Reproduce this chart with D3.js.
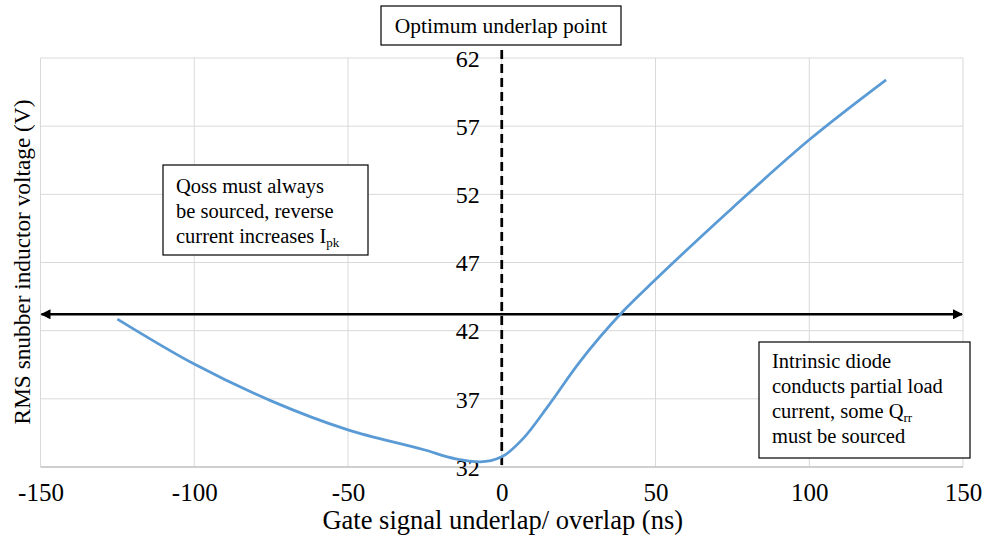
<!DOCTYPE html>
<html>
<head>
<meta charset="utf-8">
<script src="https://cdn.jsdelivr.net/npm/d3@7"></script>
<style>
  html, body { margin: 0; padding: 0; background: #fff; }
</style>
</head>
<body>
<svg id="chart" width="987" height="539"></svg>
<script>
// ---- data ----
const gapNs   = [-125, -100, -75, -50, -25, -15, -7, 0, 7, 15, 25, 40, 50, 75, 100, 125];
const vRms    = [42.85, 39.55, 36.85, 34.72, 33.25, 32.6, 32.38, 32.75, 34.1, 36.45, 39.6, 43.55, 45.75, 51.0, 56.0, 60.4];
const xTicks  = [-150, -100, -50, 0, 50, 100, 150];
const yTicks  = [32, 37, 42, 47, 52, 57, 62];
const arrowLevel = 43.2;
const xTitle  = "Gate signal underlap/ overlap (ns)";
const yTitle  = "RMS snubber inductor voltage (V)";

const FONT = '"Liberation Serif", "Times New Roman", serif';
const svg = d3.select("#chart");
const x = d3.scaleLinear().domain([-150, 150]).range([40.5, 963]);
const y = d3.scaleLinear().domain([32, 62]).range([467, 58]);

// defs for arrowheads
const defs = svg.append("defs");
defs.append("marker").attr("id", "arrowEnd").attr("viewBox", "0 0 10 10")
  .attr("refX", 9).attr("refY", 5).attr("markerWidth", 5).attr("markerHeight", 4)
  .attr("markerUnits", "strokeWidth").attr("orient", "auto")
  .append("path").attr("d", "M0,0 L10,5 L0,10 z").attr("fill", "#000");
defs.append("marker").attr("id", "arrowStart").attr("viewBox", "0 0 10 10")
  .attr("refX", 1).attr("refY", 5).attr("markerWidth", 5).attr("markerHeight", 4)
  .attr("markerUnits", "strokeWidth").attr("orient", "auto")
  .append("path").attr("d", "M10,0 L0,5 L10,10 z").attr("fill", "#000");

// gridlines
svg.append("g").selectAll("line").data(xTicks).join("line")
  .attr("x1", d => x(d)).attr("x2", d => x(d))
  .attr("y1", y(62)).attr("y2", y(32))
  .attr("stroke", "#d9d9d9").attr("stroke-width", 1);
svg.append("g").selectAll("line").data(yTicks).join("line")
  .attr("x1", x(-150)).attr("x2", x(150))
  .attr("y1", d => y(d)).attr("y2", d => y(d))
  .attr("stroke", d => d === 32 ? "#bfbfbf" : "#d9d9d9")
  .attr("stroke-width", d => d === 32 ? 1.5 : 1);

function txt(sel, size) { return sel.style("font-family", FONT).style("font-size", size + "px").attr("fill", "#000"); }

// x axis labels
const xAxis = d3.axisBottom(x).tickValues(xTicks).tickSize(0).tickPadding(0).tickFormat(d => String(d));
const gx = svg.append("g").attr("transform", `translate(0,${y(32)})`).call(xAxis);
gx.select(".domain").remove();
txt(gx.selectAll("text").attr("dy", null).attr("y", 34), 25);

// y axis labels (placed left of x=0)
const yAxis = d3.axisLeft(y).tickValues(yTicks).tickSize(0).tickPadding(0).tickFormat(d => String(d));
const gy = svg.append("g").attr("transform", `translate(${x(0) - 22},0)`).call(yAxis);
gy.select(".domain").remove();
txt(gy.selectAll("text").attr("dy", "0.34em"), 24);

// vertical dashed line at 0
svg.append("line")
  .attr("x1", x(0)).attr("x2", x(0))
  .attr("y1", y(62) - 8).attr("y2", y(32))
  .attr("stroke", "#000").attr("stroke-width", 2.75).attr("stroke-dasharray", "9,5");

// horizontal double arrow
svg.append("line")
  .attr("x1", x(-150) + 1).attr("x2", x(150) - 1)
  .attr("y1", y(arrowLevel)).attr("y2", y(arrowLevel))
  .attr("stroke", "#000").attr("stroke-width", 2.5)
  .attr("marker-start", "url(#arrowStart)").attr("marker-end", "url(#arrowEnd)");

// data line
const pts = gapNs.map((g, i) => [g, vRms[i]]);
svg.append("path").datum(pts)
  .attr("d", d3.line().x(d => x(d[0])).y(d => y(d[1])).curve(d3.curveMonotoneX))
  .attr("fill", "none").attr("stroke", "#5b9bd5").attr("stroke-width", 2.75);

// axis titles
txt(svg.append("text").attr("x", x(0) + 1).attr("y", 529).attr("text-anchor", "middle"), 26.5).text(xTitle);
txt(svg.append("text").attr("transform", "translate(30,262) rotate(-90)")
  .attr("text-anchor", "middle"), 23.3).text(yTitle);

// annotation boxes
function box(x0, y0, x1, y1) {
  svg.append("rect").attr("x", x0).attr("y", y0).attr("width", x1 - x0).attr("height", y1 - y0)
    .attr("fill", "#fff").attr("stroke", "#000").attr("stroke-width", 1.2);
}
// optimum box
box(381, 6, 621, 45);
txt(svg.append("text").attr("x", 501).attr("y", 33).attr("text-anchor", "middle"), 21.5)
  .text("Optimum underlap point");

// Qoss box
box(163, 165, 368, 255);
txt(svg.append("text").attr("x", 176).attr("y", 193), 20.5).text("Qoss must always");
txt(svg.append("text").attr("x", 176).attr("y", 218), 20.5).text("be sourced, reverse");
const t3 = txt(svg.append("text").attr("x", 176).attr("y", 243), 20.5);
t3.append("tspan").text("current increases I");
t3.append("tspan").style("font-size", "13px").attr("dy", 4).text("pk");

// Intrinsic box
box(759, 342, 970, 458);
txt(svg.append("text").attr("x", 772).attr("y", 368), 20.5).text("Intrinsic diode");
txt(svg.append("text").attr("x", 772).attr("y", 393), 20.5).text("conducts partial load");
const t4 = txt(svg.append("text").attr("x", 772).attr("y", 418), 20.5);
t4.append("tspan").text("current, some Q");
t4.append("tspan").style("font-size", "13px").attr("dy", 4).text("rr");
txt(svg.append("text").attr("x", 772).attr("y", 443), 20.5).text("must be sourced");
</script>
</body>
</html>
